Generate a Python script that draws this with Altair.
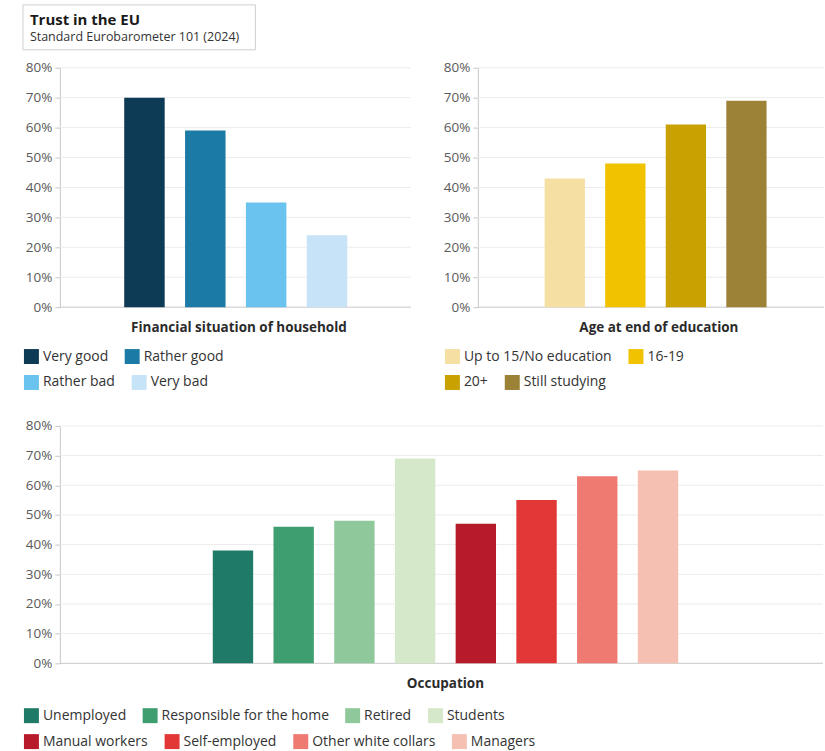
import altair as alt
import pandas as pd

FONT = "Open Sans"

# Header text
title_text = "Trust in the EU"
subtitle_text = "Standard Eurobarometer 101 (2024)"

# Share of respondents who tend to trust the EU (%)
finance_cats = ["Very good", "Rather good", "Rather bad", "Very bad"]
finance_vals = [70, 59, 35, 24]
finance_colors = ["#0d3a55", "#1b7aa6", "#69c3ee", "#c7e3f7"]

edu_cats = ["Up to 15/No education", "16-19", "20+", "Still studying"]
edu_vals = [43, 48, 61, 69]
edu_colors = ["#f6dfa2", "#f0c200", "#c9a100", "#9b8236"]

occ_cats = ["Unemployed", "Responsible for the home", "Retired", "Students",
            "Manual workers", "Self-employed", "Other white collars", "Managers"]
occ_vals = [38, 46, 48, 69, 47, 55, 63, 65]
occ_colors = ["#1f7a67", "#3f9e70", "#8fc99b", "#d5e8c9",
              "#b71a2a", "#e23737", "#ee7a72", "#f5c0b1"]

y_ticks = [0, 10, 20, 30, 40, 50, 60, 70, 80]


def legend(x, y):
    return alt.Legend(orient="none", legendX=x, legendY=y, direction="horizontal",
                      title=None, symbolType="square", symbolSize=225,
                      symbolStrokeWidth=0, labelFontSize=14, labelColor="#333333",
                      labelOffset=4, columnPadding=16, labelLimit=400)


def panel(cats, vals, colors, axis_title, width, height, band_range,
          extent, title_x, split, legend_x, legend_y):
    """Bar panel; legend entries are split over two rows (color / fill)."""
    x_scale = alt.Scale(domain=cats, paddingInner=0.335, paddingOuter=0.1675,
                        range=band_range)
    y_scale = alt.Scale(domain=[0, 80], nice=False)
    x_axis = alt.Axis(labels=False, ticks=False, domain=False, grid=False,
                      titlePadding=13, titleFontSize=13.5, titleFontWeight="bold",
                      titleColor="#2b2b2b", titleX=title_x)
    y_axis = alt.Axis(values=y_ticks, labelExpr="datum.value + '%'", grid=False,
                      domainColor="#c8c8c8", tickColor="#c8c8c8", tickSize=5,
                      labelPadding=3, labelFontSize=13.5, labelColor="#5a5a5a",
                      minExtent=extent, maxExtent=extent)

    ticks_df = pd.DataFrame({"tick": y_ticks})
    grid = alt.Chart(ticks_df).transform_filter("datum.tick > 0").mark_rule(
        color="#ececec", strokeWidth=1
    ).encode(y=alt.Y("tick:Q", scale=y_scale, axis=y_axis, title=None),
             x=alt.value(0), x2=alt.value(width))
    base = alt.Chart(ticks_df).transform_filter("datum.tick == 0").mark_rule(
        color="#c8c8c8", strokeWidth=1
    ).encode(y=alt.Y("tick:Q", scale=y_scale, axis=y_axis, title=None),
             x=alt.value(0), x2=alt.value(width))

    first = pd.DataFrame({"group": cats[:split], "trust": vals[:split]})
    second = pd.DataFrame({"group": cats[split:], "trust": vals[split:]})

    x_enc = alt.X("group:N", scale=x_scale, axis=x_axis, title=axis_title)
    y_enc = alt.Y("trust:Q", scale=y_scale, axis=y_axis, title=None)

    bars_a = alt.Chart(first).mark_bar().encode(
        x=x_enc, y=y_enc,
        color=alt.Color("group:N", sort=cats[:split],
                        scale=alt.Scale(domain=cats[:split], range=colors[:split]),
                        legend=legend(legend_x, legend_y)),
    )
    bars_b = alt.Chart(second).mark_bar().encode(
        x=x_enc, y=y_enc,
        fill=alt.Fill("group:N", sort=cats[split:],
                      scale=alt.Scale(domain=cats[split:], range=colors[split:]),
                      legend=legend(legend_x, legend_y + 26)),
    )
    return alt.layer(grid, base, bars_a, bars_b).properties(width=width, height=height)


header_df = pd.DataFrame({"title": [title_text], "subtitle": [subtitle_text]})
header_box = alt.Chart(header_df).mark_rect(
    fill="white", stroke="#cfcfcf", strokeWidth=1
).encode(x=alt.value(-37), x2=alt.value(196), y=alt.value(0), y2=alt.value(45))
header_title = alt.Chart(header_df).mark_text(
    align="left", baseline="middle", fontSize=15, fontWeight="bold", color="#1a1a1a"
).encode(x=alt.value(-30), y=alt.value(15), text="title:N")
header_sub = alt.Chart(header_df).mark_text(
    align="left", baseline="middle", fontSize=12.5, color="#333333"
).encode(x=alt.value(-30), y=alt.value(32), text="subtitle:N")
header = alt.layer(header_box, header_title, header_sub).properties(width=196, height=45)

finance = panel(finance_cats, finance_vals, finance_colors,
                "Financial situation of household", 352, 240, [54.3, 298.3],
                38, 179, 2, -36, 282)
education = panel(edu_cats, edu_vals, edu_colors,
                  "Age at end of education", 347, 240, [56.8, 299.6],
                  35, 181, 2, -33, 282)
occupation = panel(occ_cats, occ_vals, occ_colors, "Occupation",
                   765, 238, [143.1, 630.0], 38, 386, 4, -36, 283)

top_row = alt.hconcat(finance, education, spacing=31).resolve_scale(
    x="independent", y="independent", color="independent", fill="independent"
).resolve_legend(color="independent", fill="independent")

upper = alt.vconcat(header, top_row, spacing=10).resolve_scale(
    x="independent", y="independent", color="independent", fill="independent"
).resolve_legend(color="independent", fill="independent")

chart = alt.vconcat(upper, occupation, spacing=29).resolve_scale(
    x="independent", y="independent", color="independent", fill="independent"
).resolve_legend(color="independent", fill="independent").properties(
    padding={"left": 22, "top": 3, "right": 0, "bottom": 0},
    background="white",
).configure(font=FONT).configure_view(stroke=None)

chart.save("out.html", embed_options={"renderer": "svg", "actions": False})
